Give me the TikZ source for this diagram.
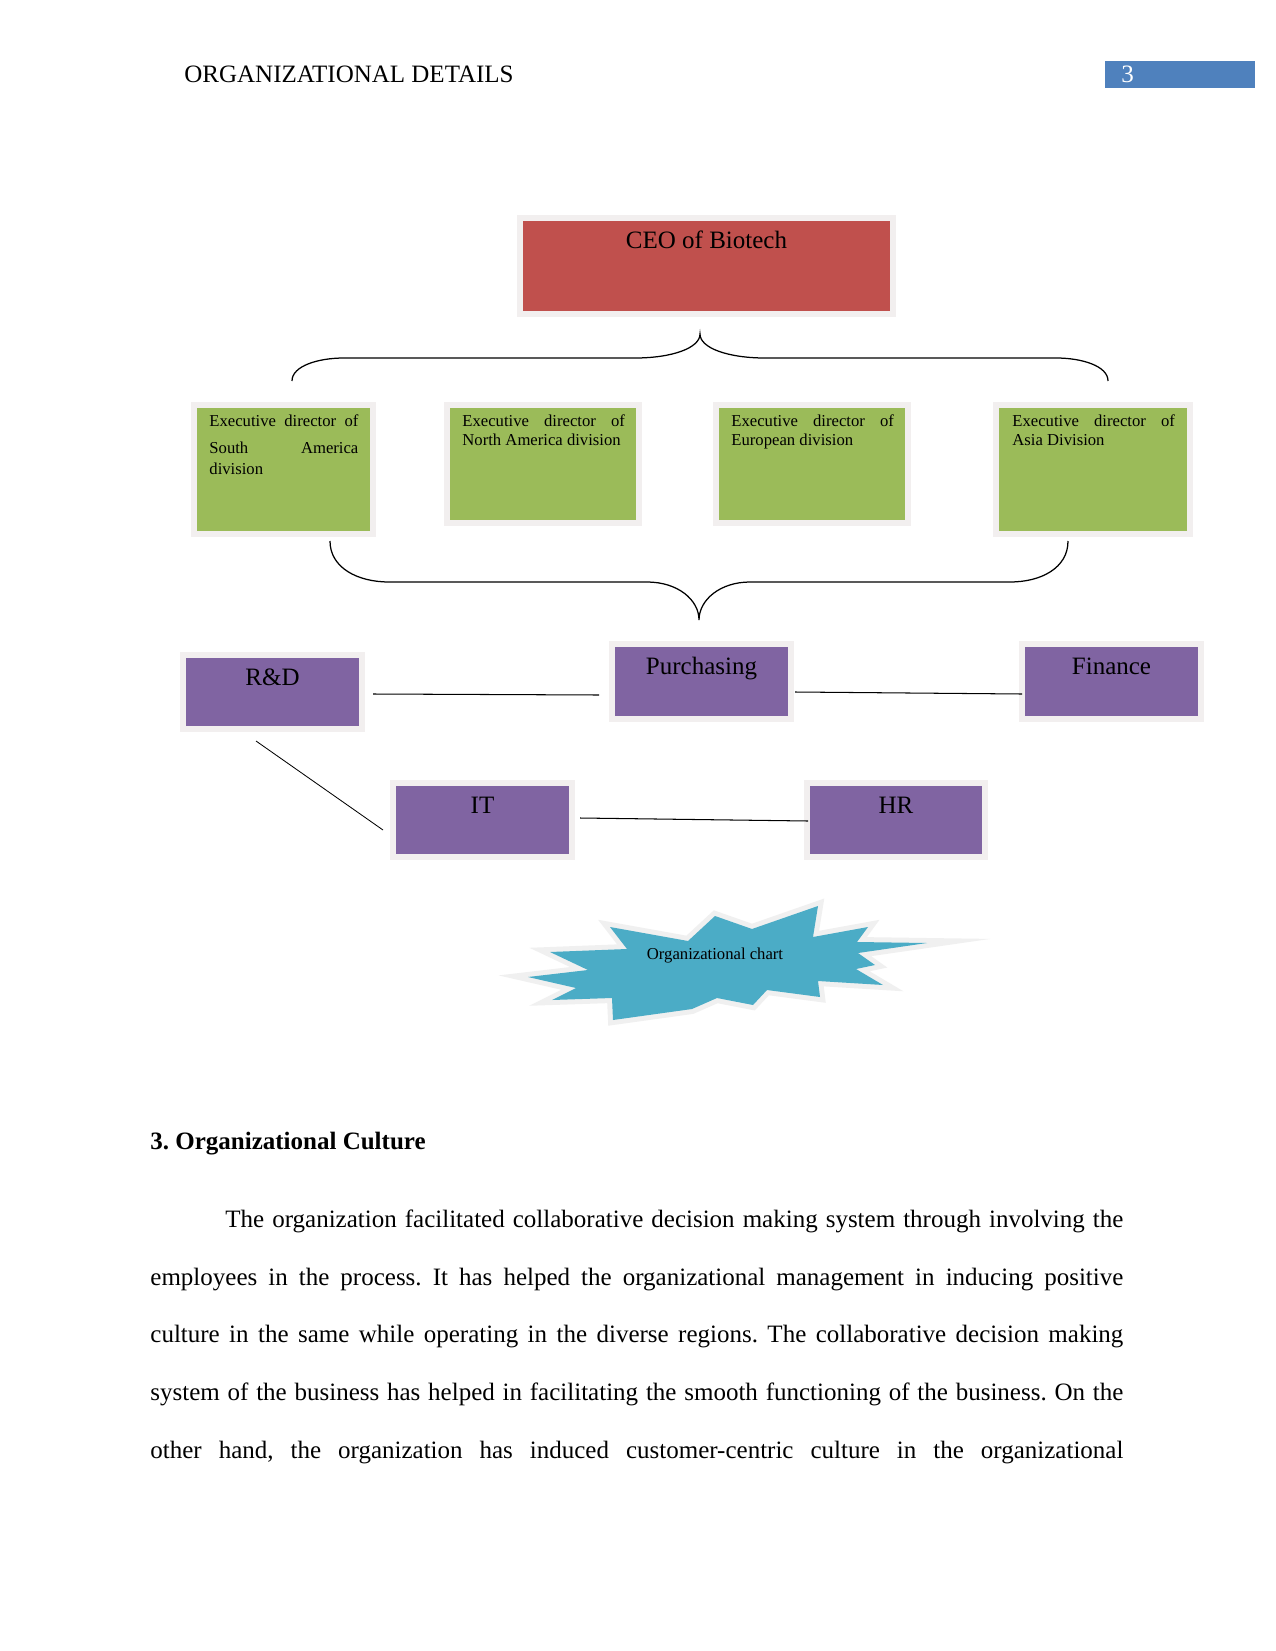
\documentclass[tikz,border=0pt]{standalone}
\usepackage{fontspec}
\setmainfont{Liberation Serif}
\usetikzlibrary{calc}
\frenchspacing
\newlength\pxu
\setlength\pxu{0.48pt}
\definecolor{ceored}{HTML}{C0504D}
\definecolor{divgreen}{HTML}{9BBB59}
\definecolor{deptpurple}{HTML}{8064A2}
\definecolor{starblue}{HTML}{4BACC6}
\definecolor{pagebox}{HTML}{4F81BD}
\definecolor{shadowc}{HTML}{F2EFEF}
\definecolor{starglow}{HTML}{F0F0F0}
\tikzset{
  boxbase/.style={rectangle, inner sep=0pt, outer sep=0pt, preaction={draw=shadowc, line width=12\pxu}},
  ceobox/.style={boxbase, fill=ceored},
  divbox/.style={boxbase, fill=divgreen},
  deptbox/.style={boxbase, fill=deptpurple},
  boxtext/.style={inner sep=0pt, anchor=base, font=\fontsize{12}{14}\selectfont},
  divtext/.style={inner sep=0pt, anchor=base west, font=\fontsize{8}{9.5}\selectfont},
  bodytext/.style={inner sep=0pt, anchor=base west, font=\fontsize{12}{14}\selectfont},
  link/.style={draw=black, line width=0.5pt},
  bracepath/.style={draw=black, line width=0.6pt},
}
\begin{document}
\begin{tikzpicture}[x=0.48pt, y=-0.48pt]
\fill[white] (0,0) rectangle (1275,1651);
\useasboundingbox (0,0) rectangle (1275,1651);

% header
\node[bodytext] (header) at (184,83) {ORGANIZATIONAL DETAILS};
\node[fill=pagebox, rectangle, inner sep=0pt, minimum width=150\pxu, minimum height=27\pxu] (pgbox) at (1180,74.5) {};
\node[boxtext, text=white] (pgnum) at ($(pgbox.south west)+(23,-6)$) {3};

% CEO
\node[ceobox, minimum width=367\pxu, minimum height=90\pxu] (ceo) at (706.5,266) {};
\node[boxtext] (ceot) at ($(ceo.north)+(0,27)$) {CEO of Biotech};

% top brace
\draw[bracepath] (292,381) .. controls (292,366) and (318,358) .. (344,358) -- (635,358)
  .. controls (672,358) and (700,348) .. (700,334)
  .. controls (700,348) and (728,358) .. (765,358) -- (1056,358)
  .. controls (1082,358) and (1108,366) .. (1108,381);

% division boxes
\node[divbox, minimum width=173\pxu, minimum height=123\pxu] (d1) at (283.5,469.5) {};
\node[divbox, minimum width=186\pxu, minimum height=112\pxu] (d2) at (543,464) {};
\node[divbox, minimum width=186\pxu, minimum height=112\pxu] (d3) at (812,464) {};
\node[divbox, minimum width=188\pxu, minimum height=123\pxu] (d4) at (1093,469.5) {};

\node[divtext] (d1a) at ($(d1.north west)+(12,18)$) {\makebox[71.5pt][s]{Executive director of}};
\node[divtext] (d1b) at ($(d1.north west)+(12,45)$) {\makebox[71.5pt][s]{South America}};
\node[divtext] (d1c) at ($(d1.north west)+(12,66)$) {division};

\node[divtext] (d2a) at ($(d2.north west)+(12,18)$) {\makebox[78pt][s]{Executive director of}};
\node[divtext] (d2b) at ($(d2.north west)+(12,37)$) {North America division};

\node[divtext] (d3a) at ($(d3.north west)+(12,18)$) {\makebox[78pt][s]{Executive director of}};
\node[divtext] (d3b) at ($(d3.north west)+(12,37)$) {European division};

\node[divtext] (d4a) at ($(d4.north west)+(13,18)$) {\makebox[78pt][s]{Executive director of}};
\node[divtext] (d4b) at ($(d4.north west)+(13,37)$) {Asia Division};

% bottom brace
\draw[bracepath] (330,541) .. controls (330,568) and (358,582) .. (389,582) -- (647,582)
  .. controls (678,582) and (699,600) .. (699,620)
  .. controls (699,600) and (720,582) .. (750,582) -- (1010,582)
  .. controls (1041,582) and (1068,568) .. (1068,541);

% departments
\node[deptbox, minimum width=173\pxu, minimum height=68\pxu] (rd) at (272.5,692) {};
\node[deptbox, minimum width=173\pxu, minimum height=69\pxu] (purch) at (701.5,681.5) {};
\node[deptbox, minimum width=173\pxu, minimum height=69\pxu] (fin) at (1111.5,681.5) {};
\node[deptbox, minimum width=173\pxu, minimum height=68\pxu] (it) at (482.5,820) {};
\node[deptbox, minimum width=172\pxu, minimum height=68\pxu] (hr) at (896,820) {};

\node[boxtext] (rdt) at ($(rd.north)+(0,27)$) {R\&D};
\node[boxtext] (purcht) at ($(purch.north)+(0,27)$) {Purchasing};
\node[boxtext] (fint) at ($(fin.north)+(0,27)$) {Finance};
\node[boxtext] (itt) at ($(it.north)+(0,27)$) {IT};
\node[boxtext] (hrt) at ($(hr.north)+(0,27)$) {HR};

% links
\draw[link] ($(rd.east)+(14,2)$) -- ($(purch.west)+(-16,13.5)$);
\draw[link] ($(purch.east)+(7,10.5)$) -- ($(fin.west)+(-3,12.5)$);
\draw[link, line width=0.4pt] ($(rd.south)+(-16.5,15)$) -- ($(it.west)+(-13,10)$);
\draw[link] ($(it.east)+(11,-2)$) -- ($(hr.west)+(-2,1)$);

% starburst
\fill[starblue, preaction={draw=starglow, line width=10\pxu, line join=miter, miter limit=14}]
  (610,927) -- (688,941) -- (715,916) -- (752,929) -- (818,906) -- (813,937)
  -- (868,927) -- (857,942) -- (927,943) -- (858,953) -- (875,965) -- (856,969)
  -- (883,985) -- (818,981) -- (820,997) -- (767,990) -- (753,1005) -- (717,998)
  -- (692,1009) -- (613,1020) -- (612,998) -- (552,1000) -- (576,988) -- (528,977)
  -- (588,970) -- (550,952) -- (627,949) -- cycle;
\node[inner sep=0pt, font=\fontsize{8}{9.5}\selectfont] (chart) at (715,956) {Organizational chart};

% section text
\node[bodytext, font=\fontsize{12}{14}\selectfont\bfseries] (sec) at (150,1149) {3. Organizational Culture};
\node[bodytext] (l1) at (225,1227) {\makebox[431pt][s]{The organization facilitated collaborative decision making system through involving the}};
\node[bodytext] (l2) at (150,1285) {\makebox[467pt][s]{employees in the process. It has helped the organizational management in inducing positive}};
\node[bodytext] (l3) at (150,1342) {\makebox[467pt][s]{culture in the same while operating in the diverse regions. The collaborative decision making}};
\node[bodytext] (l4) at (150,1400) {\makebox[467pt][s]{system of the business has helped in facilitating the smooth functioning of the business. On the}};
\node[bodytext] (l5) at (150,1458) {\makebox[467pt][s]{other hand, the organization has induced customer-centric culture in the organizational}};
\end{tikzpicture}
\end{document}
